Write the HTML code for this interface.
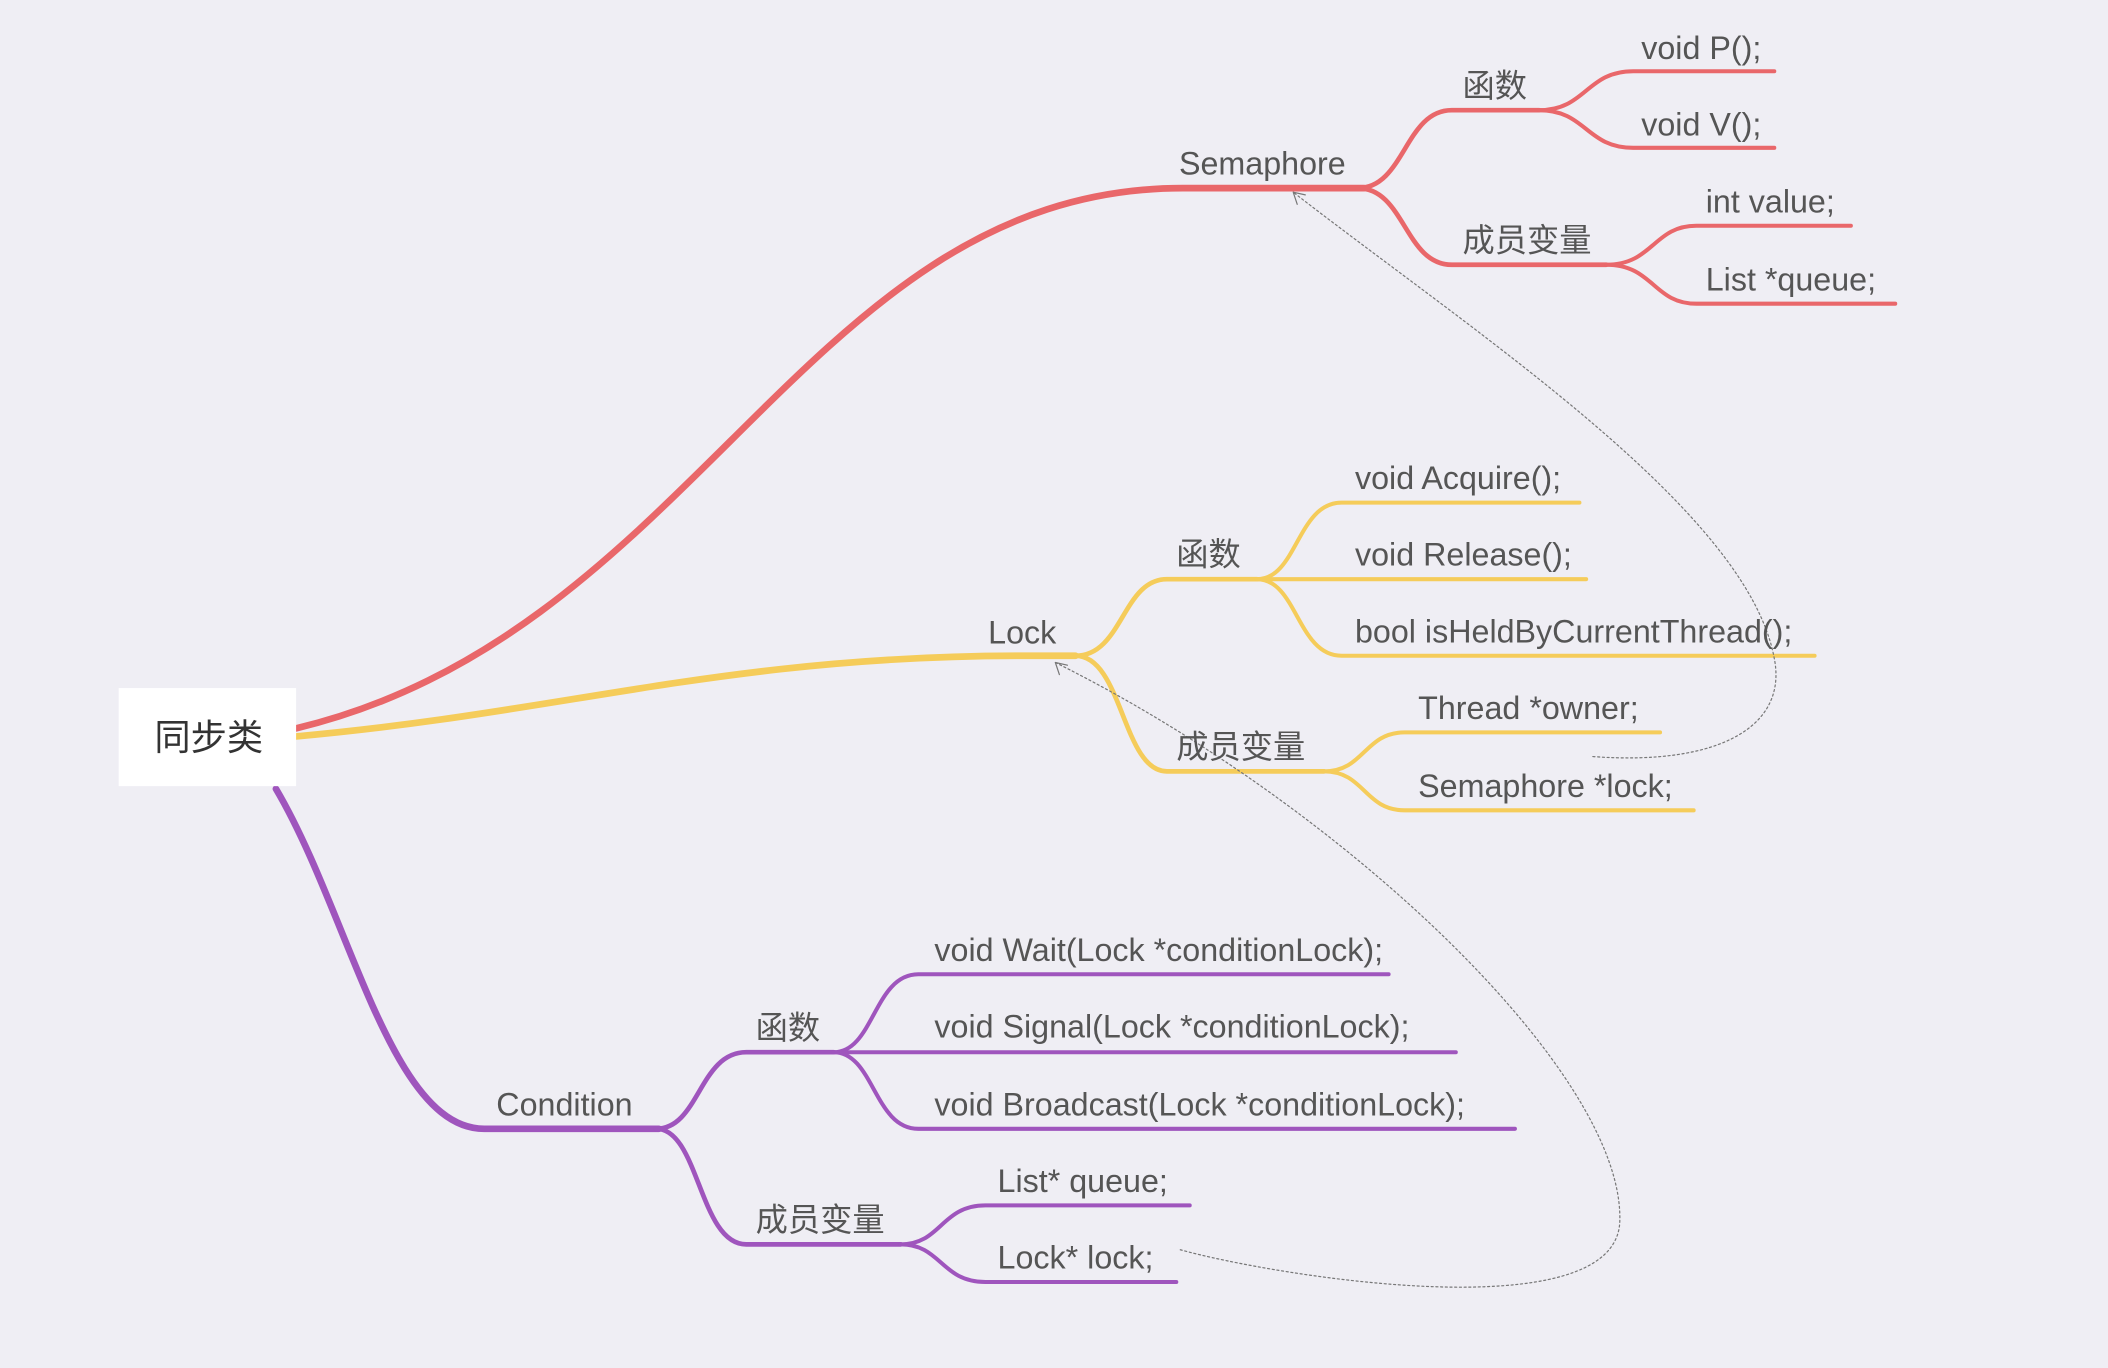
<!DOCTYPE html>
<html><head><meta charset="utf-8"><style>
html,body{margin:0;padding:0;background:#efeef4;}
svg{display:block}
text{font-family:"Liberation Sans","Noto Sans CJK SC",sans-serif;fill:#555;font-size:24px}
</style></head><body>
<svg width="2108" height="1368" viewBox="0 0 1568 1018" xmlns="http://www.w3.org/2000/svg">
<rect width="1568" height="1018" fill="#efeef4"/>
<g fill="none" stroke-linecap="round">
<g stroke="#e9676a">
<path d="M220 542 C 520 470, 600 140, 880 140 L1015 140" stroke-width="5"/>
<path d="M1010 140 C1045 140,1045 82,1080 82 L1145 82" stroke-width="3.5"/>
<path d="M1010 140 C1045 140,1045 197,1080 197 L1195 197" stroke-width="3.5"/>
<path d="M1145 82 C1180 82,1180 53,1215 53 L1320 53" stroke-width="3"/>
<path d="M1145 82 C1180 82,1180 110,1215 110 L1320 110" stroke-width="3"/>
<path d="M1195 197 C1230 197,1230 168,1262 168 L1377 168" stroke-width="3"/>
<path d="M1195 197 C1230 197,1230 226,1262 226 L1410 226" stroke-width="3"/>
</g>
<g stroke="#f5cc5a">
<path d="M220 548 C 420 530, 540 488, 760 488 L800 488" stroke-width="5"/>
<path d="M800 488 C835 488,835 431,868 431 L935 431" stroke-width="3.5"/>
<path d="M800 488 C835 488,835 574,868 574 L985 574" stroke-width="3.5"/>
<path d="M935 431 C965 431,965 374,998 374 L1175 374" stroke-width="3"/>
<path d="M935 431 L1180 431" stroke-width="3"/>
<path d="M935 431 C965 431,965 488,998 488 L1350 488" stroke-width="3"/>
<path d="M985 574 C1015 574,1015 545,1045 545 L1235 545" stroke-width="3"/>
<path d="M985 574 C1015 574,1015 603,1045 603 L1260 603" stroke-width="3"/>
</g>
<g stroke="#9f55bd">
<path d="M205 587 C 260 680, 290 840, 360 840 L490 840" stroke-width="5"/>
<path d="M488 840 C520 840,520 783,555 783 L620 783" stroke-width="3.5"/>
<path d="M488 840 C520 840,520 926,555 926 L670 926" stroke-width="3.5"/>
<path d="M620 783 C650 783,650 725,683 725 L1033 725" stroke-width="3"/>
<path d="M620 783 L1083 783" stroke-width="3"/>
<path d="M620 783 C650 783,650 840,683 840 L1127 840" stroke-width="3"/>
<path d="M670 926 C700 926,700 897,733 897 L885 897" stroke-width="3"/>
<path d="M670 926 C700 926,700 954,733 954 L875 954" stroke-width="3"/>
</g>
<g stroke="#777" stroke-width="0.9" stroke-dasharray="1.5 2">
<path d="M1185 563 C1280 570,1330 540,1320 490 C1300 380,1100 250,962 143"/>
<path d="M962 143 l3 9 M962 143 l9 2" stroke-dasharray="none"/>
<path d="M878 930 C950 950,1200 990,1205 910 C1210 800,1000 600,785 493"/>
<path d="M785 493 l3 9 M785 493 l9 2" stroke-dasharray="none"/>
</g>
</g>
<rect x="88" y="512" width="132" height="73" fill="#fff"/>
<text x="155" y="558" text-anchor="middle" style="font-size:27px;fill:#333">同步类</text>
<text x="877" y="130">Semaphore</text>
<text x="1088" y="72">函数</text>
<text x="1088" y="187">成员变量</text>
<text x="1221" y="44">void P();</text>
<text x="1221" y="101">void V();</text>
<text x="1269" y="158">int value;</text>
<text x="1269" y="216">List *queue;</text>
<text x="735" y="479">Lock</text>
<text x="875" y="421">函数</text>
<text x="875" y="564">成员变量</text>
<text x="1008" y="364">void Acquire();</text>
<text x="1008" y="421">void Release();</text>
<text x="1008" y="478">bool isHeldByCurrentThread();</text>
<text x="1055" y="535">Thread *owner;</text>
<text x="1055" y="593">Semaphore *lock;</text>
<text x="369" y="830">Condition</text>
<text x="562" y="773">函数</text>
<text x="562" y="916">成员变量</text>
<text x="695" y="715">void Wait(Lock *conditionLock);</text>
<text x="695" y="772">void Signal(Lock *conditionLock);</text>
<text x="695" y="830">void Broadcast(Lock *conditionLock);</text>
<text x="742" y="887">List* queue;</text>
<text x="742" y="944">Lock* lock;</text>
</svg>
</body></html>
